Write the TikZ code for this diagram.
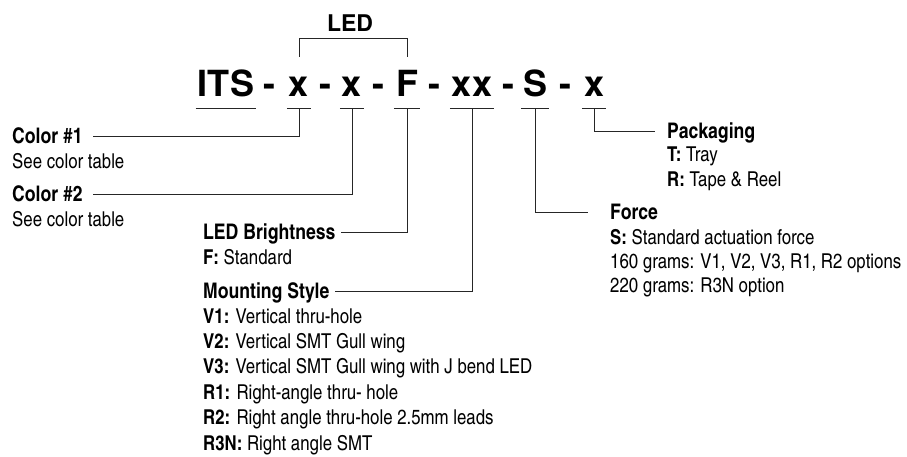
\documentclass[tikz,border=0pt]{standalone}
\usepackage{fontspec}
\setmainfont{TeX Gyre Heros Cn}
\newfontfamily\titlefont{TeX Gyre Heros}
\usepackage{tikz}

\tikzset{
  code/.style={font=\titlefont\fontsize{36}{40}\selectfont\bfseries, text height=29pt, text depth=0pt, inner xsep=2pt, inner ysep=11pt, anchor=base},
  hyph/.style={font=\titlefont\fontsize{36}{40}\selectfont\bfseries, anchor=base},
  hdg/.style={font=\fontsize{21.5}{24}\selectfont\bfseries, text height=15.5pt, text depth=0pt, inner xsep=0pt, anchor=west},
  det/.style={font=\fontsize{20.5}{24}\selectfont, inner xsep=0pt, anchor=base west},
  lead/.style={draw=black!85, line width=0.8pt},
}

\begin{document}
\begin{tikzpicture}[x=1pt,y=-1pt]
    \useasboundingbox (0,0) rectangle (907,457);

    % Part number
    \node[code] (cI) at (226,97) {ITS};
    \node[code] (cA) at (299,97) {x};
    \node[code] (cB) at (352,97) {x};
    \node[code] (cF) at (407,97) {F};
    \node[code] (cM) at (472,97) {xx};
    \node[code] (cS) at (535,97) {S};
    \node[code] (cP) at (594,97) {x};
    \foreach \x [count=\i] in {269,325,378,434,508,565}
        \node[hyph] (hy\i) at (\x,97) {-};
    \foreach \c in {cI,cA,cB,cF,cM,cS,cP}
        \draw[lead] (\c.south west) -- (\c.south east);

    % LED bracket
    \node[font=\titlefont\fontsize{23}{26}\selectfont\bfseries, text depth=0pt, inner ysep=6pt, anchor=base] (led) at (350,32) {LED};
    \draw[lead] (cA.north) |- (led.south) -| (cF.north);

    % Left callouts
    \node[hdg] (hColA) at (12,136) {Color \#1};
    \node[det] (dColA) at (12,169) {See color table};
    \node[hdg] (hColB) at (12,194) {Color \#2};
    \node[det] (dColB) at (12,226) {See color table};
    \node[hdg] (hBri) at (203,232) {LED Brightness};
    \node[det] (dBri) at (203,264) {\textbf{F:} Standard};
    \node[hdg] (hMnt) at (203,291) {Mounting Style};
    \foreach \k/\t [count=\i from 0] in {V1/Vertical thru-hole, V2/Vertical SMT Gull wing, V3/Vertical SMT Gull wing with J bend LED, R1/Right-angle thru- hole, R2/Right angle thru-hole 2.5mm leads, R3N/Right angle SMT}
        \node[det] (dMnt\i) at (203,{323+25.4*\i}) {\textbf{\k:} \t};

    % Right callouts
    \node[hdg] (hPkg) at (667,131) {Packaging};
    \node[det] (dPkgA) at (667,162) {\textbf{T:} Tray};
    \node[det] (dPkgB) at (667,186) {\textbf{R:} Tape \& Reel};
    \node[hdg] (hFrc) at (610,212) {Force};
    \node[det] (dFrcA) at (610,244) {\textbf{S:} Standard actuation force};
    \node[det] (dFrcB) at (610,268) {160 grams: V1, V2, V3, R1, R2 options};
    \node[det] (dFrcC) at (610,292) {220 grams: R3N option};

    % Leaders
    \draw[lead] (cA.south) |- ([xshift=10pt]hColA.east);
    \draw[lead] (cB.south) |- ([xshift=10pt]hColB.east);
    \draw[lead] (cF.south) |- ([xshift=5pt]hBri.east);
    \draw[lead] (cM.south) |- ([xshift=5pt]hMnt.east);
    \draw[lead] (cS.south) |- ([xshift=-22pt]hFrc.west);
    \draw[lead] (cP.south) |- ([xshift=-12pt]hPkg.west);
\end{tikzpicture}
\end{document}
